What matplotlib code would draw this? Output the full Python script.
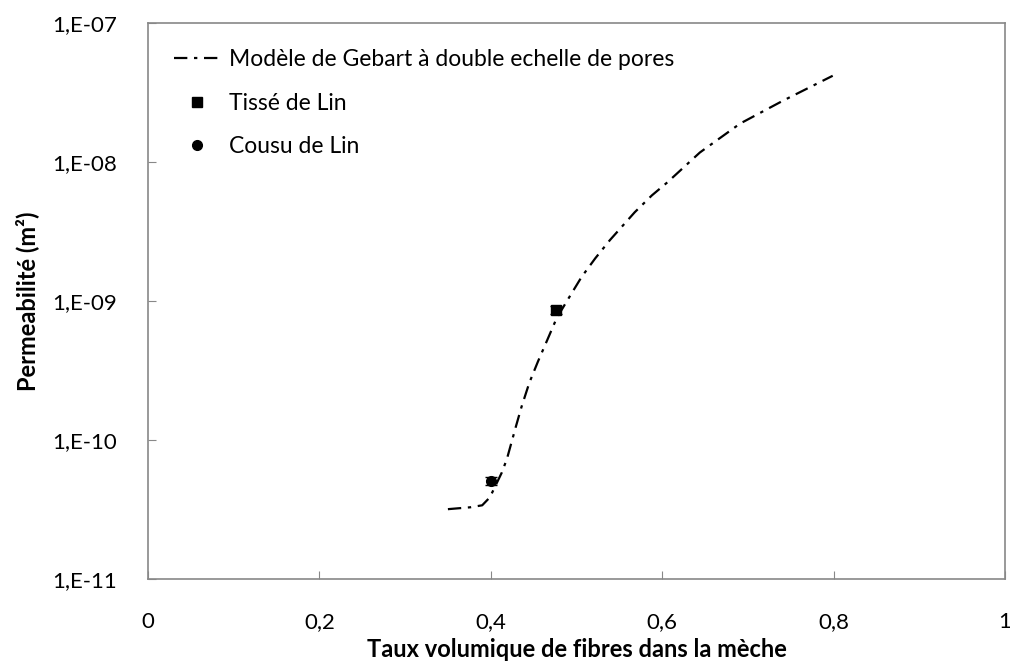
import matplotlib
matplotlib.use('Agg')
import matplotlib.pyplot as plt
from matplotlib.ticker import FixedLocator

plt.rcParams['font.family'] = ['Lato', 'DejaVu Sans']

# Gebart model with double pore scale
model_x = [0.35, 0.376, 0.39, 0.399, 0.413, 0.419, 0.429, 0.436, 0.445, 0.455,
           0.466, 0.477, 0.491, 0.506, 0.522, 0.539, 0.568, 0.588, 0.606,
           0.644, 0.691, 0.741, 0.799]
model_k = [3.18e-11, 3.28e-11, 3.39e-11, 3.87e-11, 5.85e-11, 7.36e-11, 1.23e-10,
           1.74e-10, 2.58e-10, 3.66e-10, 5.25e-10, 7.55e-10, 1.05e-9, 1.49e-9,
           2.03e-9, 2.74e-9, 4.35e-9, 5.75e-9, 7.13e-9, 1.17e-8, 1.89e-8,
           2.76e-8, 4.17e-8]

# measurements
tisse_x = [0.476]
tisse_k = [8.6e-10]
tisse_err = [0.6e-10]
cousu_x = [0.40]
cousu_k = [5.1e-11]
cousu_err = [0.35e-11]

y_ticks = [1e-11, 1e-10, 1e-9, 1e-8, 1e-7]
y_labels = ['1,E-11', '1,E-10', '1,E-09', '1,E-08', '1,E-07']
x_ticks = [0, 0.2, 0.4, 0.6, 0.8, 1.0]
x_labels = ['0', '0,2', '0,4', '0,6', '0,8', '1']

fig = plt.figure(figsize=(10.1, 6.64), dpi=100)
ax = fig.add_axes([0.1465, 0.128, 0.8485, 0.8374])

ax.plot(model_x, model_k, color='black', linewidth=1.6,
        dashes=(6, 3, 1.5, 3), label='Modèle de Gebart à double echelle de pores')
ax.errorbar(tisse_x, tisse_k, yerr=tisse_err, fmt='none', ecolor='black',
            elinewidth=1, capsize=4)
ax.plot(tisse_x, tisse_k, 's', color='black', markersize=7, label='Tissé de Lin')
ax.errorbar(cousu_x, cousu_k, yerr=cousu_err, fmt='none', ecolor='black',
            elinewidth=1, capsize=4)
ax.plot(cousu_x, cousu_k, 'o', color='black', markersize=7, label='Cousu de Lin')

ax.set_yscale('log')
ax.set_xlim(0, 1)
ax.set_ylim(1e-11, 1e-7)
ax.set_yticks(y_ticks)
ax.set_yticklabels(y_labels)
ax.yaxis.set_minor_locator(FixedLocator([]))
ax.set_xticks(x_ticks)
ax.set_xticklabels(x_labels)
ax.tick_params(direction='in', length=6, color='#888888', labelsize=16)
ax.tick_params(axis='y', pad=22)
ax.tick_params(axis='x', pad=24)

for s in ax.spines.values():
    s.set_color('#888888')
    s.set_linewidth(1.2)

ax.set_xlabel('Taux volumique de fibres dans la mèche', fontsize=17, fontweight='bold', labelpad=4)
ax.set_ylabel('Permeabilité (m²)', fontsize=17, fontweight='bold', labelpad=10)

leg = ax.legend(loc='upper left', bbox_to_anchor=(0.0, 1.0), frameon=False,
                fontsize=16.5, labelspacing=0.97, handlelength=2.0,
                handletextpad=0.4, borderaxespad=0.7, borderpad=0.45, numpoints=1)

fig.savefig('out.png', dpi=100)
